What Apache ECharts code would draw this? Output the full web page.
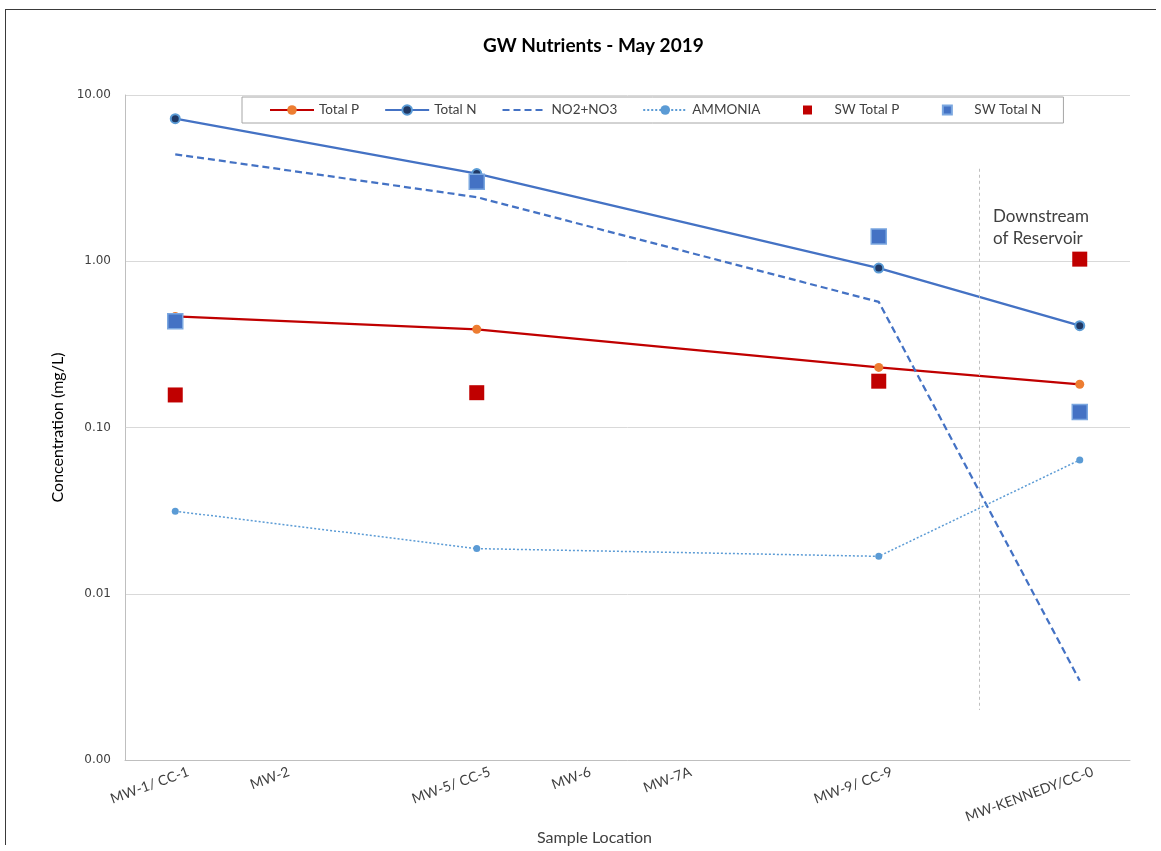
<!DOCTYPE html>
<html>
  <head>
    <meta charset="utf-8" />
    <title>GW Nutrients - May 2019</title>
    <style>
      html, body { margin: 0; padding: 0; background: #fff; overflow: hidden; }
      #main { position: absolute; left: 0; top: 0; width: 1161px; height: 851px; }
      #frame { position: absolute; left: 5px; top: 9px; width: 1150px; height: 835px;
               border-left: 1px solid #3a3a3a; border-top: 1px solid #3a3a3a; pointer-events: none; }
    </style>
  </head>
  <body>
    <script type="text/javascript" src="https://cdn.jsdelivr.net/npm/echarts@6/dist/echarts.min.js"></script>
    <div id="main"></div>
    <div id="frame"></div>

    <script type="text/javascript">
      // sample locations (empty slots keep the spacing of the original sheet)
      var locations = ["MW-1/ CC-1", "MW-2", "", "MW-5/ CC-5", "MW-6", "MW-7A", "", "MW-9/ CC-9", "", "MW-KENNEDY/CC-0"];

      var totalP   = [0.466, null, null, 0.39, null, null, null, 0.23, null, 0.182];
      var totalN   = [7.2, null, null, 3.37, null, null, null, 0.91, null, 0.41];
      var no2no3   = [4.4, null, null, 2.43, null, null, null, 0.57, null, 0.003];
      var ammonia  = [0.0314, null, null, 0.0187, null, null, null, 0.0168, null, 0.0638];
      var swTotalP = [0.157, null, null, 0.162, null, null, null, 0.19, null, 1.03];
      var swTotalN = [0.436, null, null, 3.01, null, null, null, 1.41, null, 0.124];

      var yTicks = [0.001, 0.01, 0.1, 1, 10];

      // small square centred in the wide legend slot
      var legendSquare = "path://M0,0M44,12M17.5,1.5H26.5V10.5H17.5Z";

      var dom = document.getElementById("main");
      var myChart = echarts.init(dom);
      var option;

      option = {
        animation: false,
        title: {
          text: "GW Nutrients - May 2019",
          left: 478,
          top: 31,
          textStyle: {
            fontFamily: "Lato",
            fontWeight: "bold",
            fontSize: 19,
            color: "#000",
          },
        },
        legend: {
          left: 242,
          top: 97,
          padding: [6, 22, 6, 27],
          itemWidth: 44,
          itemHeight: 12,
          itemGap: 25,
          borderColor: "#A6A6A6",
          borderWidth: 1,
          textStyle: {
            fontFamily: "Lato",
            fontSize: 13.5,
            color: "#404040",
          },
          data: [
            "Total P",
            "Total N",
            "NO2+NO3",
            "AMMONIA",
            { name: "SW Total P", icon: legendSquare },
            { name: "SW Total N", icon: legendSquare },
          ],
        },
        grid: {
          left: 125,
          top: 95,
          right: 31,
          bottom: 80,
        },
        xAxis: {
          type: "category",
          data: locations,
          name: "Sample Location",
          nameLocation: "middle",
          nameGap: 56,
          nameTextStyle: {
            fontFamily: "Lato",
            fontSize: 16,
            color: "#404040",
            padding: [0, 66, 0, 0],
          },
          axisLine: { lineStyle: { color: "#BFBFBF", width: 1 } },
          axisTick: { show: false },
          axisLabel: {
            interval: 0,
            rotate: 20,
            margin: 16,
            padding: [0, -14, 0, 0],
            fontFamily: "Lato",
            fontSize: 14,
            color: "#404040",
          },
          splitLine: { show: false },
        },
        yAxis: {
          type: "log",
          logBase: 10,
          min: yTicks[0],
          max: yTicks[yTicks.length - 1],
          name: "Concentration (mg/L)",
          nameLocation: "middle",
          nameGap: 55,
          nameTextStyle: {
            fontFamily: "Lato",
            fontSize: 16,
            color: "#000",
          },
          axisLine: { show: true, lineStyle: { color: "#BFBFBF", width: 1 } },
          axisTick: { show: false },
          axisLabel: {
            margin: 14,
            fontFamily: "DejaVu Sans",
            fontSize: 12,
            color: "#404040",
            formatter: function (v) {
              return v.toFixed(2);
            },
          },
          splitLine: { lineStyle: { color: "#D9D9D9", width: 1 } },
        },
        graphic: [
          {
            type: "text",
            left: 993,
            top: 206,
            style: {
              text: "Downstream\nof Reservoir",
              font: "17px Lato",
              lineHeight: 22,
              fill: "#404040",
            },
          },
        ],
        series: [
          {
            name: "Total P",
            type: "line",
            data: totalP,
            connectNulls: true,
            symbol: "circle",
            symbolSize: 9,
            itemStyle: { color: "#ED7D31" },
            lineStyle: { color: "#C00000", width: 2.25 },
            z: 2,
          },
          {
            name: "Total N",
            type: "line",
            data: totalN,
            connectNulls: true,
            symbol: "circle",
            symbolSize: 9,
            itemStyle: { color: "#203864", borderColor: "#5B9BD5", borderWidth: 2 },
            lineStyle: { color: "#4472C4", width: 2.25 },
            z: 2,
          },
          {
            name: "NO2+NO3",
            type: "line",
            data: no2no3,
            connectNulls: true,
            symbol: "none",
            itemStyle: { color: "rgba(0,0,0,0)" },
            lineStyle: { color: "#4472C4", width: 2.25, type: [7, 4] },
            z: 2,
            markLine: {
              silent: true,
              symbol: "none",
              label: { show: false },
              lineStyle: { color: "#BFBFBF", width: 1, type: [3, 3] },
              data: [[{ coord: [8, 3.6] }, { coord: [8, 0.002] }]],
            },
          },
          {
            name: "AMMONIA",
            type: "line",
            data: ammonia,
            connectNulls: true,
            symbol: "circle",
            symbolSize: 7,
            itemStyle: { color: "#5B9BD5" },
            lineStyle: { color: "#5B9BD5", width: 1.5, type: [2, 2] },
            z: 2,
          },
          {
            name: "SW Total P",
            type: "scatter",
            data: swTotalP,
            symbol: "rect",
            symbolSize: 15,
            itemStyle: { color: "#C00000", opacity: 1 },
            z: 3,
          },
          {
            name: "SW Total N",
            type: "scatter",
            data: swTotalN,
            symbol: "rect",
            symbolSize: 15,
            itemStyle: { color: "#4472C4", borderColor: "#7BA7E0", borderWidth: 1.5, opacity: 1 },
            z: 3,
          },
        ],
      };

      if (option && typeof option === "object") {
        myChart.setOption(option);
      }

      window.addEventListener("resize", function () {
        myChart.resize();
      });
    </script>
  </body>
</html>
